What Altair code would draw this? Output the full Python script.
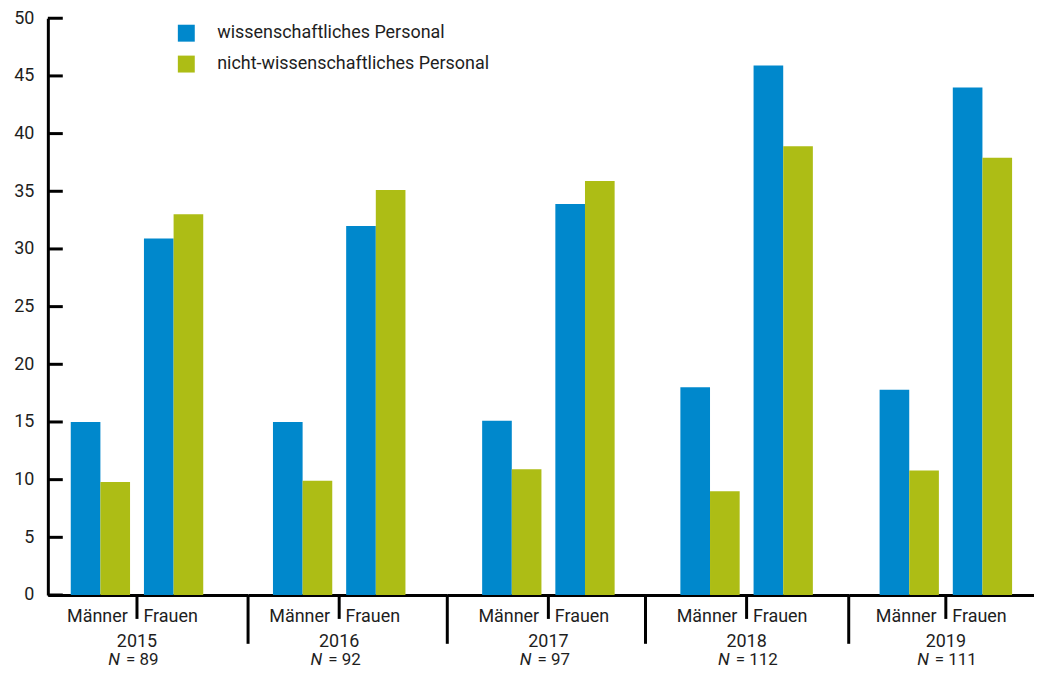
import altair as alt
import pandas as pd

years = ["2015", "2016", "2017", "2018", "2019"]
n_values = [89, 92, 97, 112, 111]
genders = ["Männer", "Frauen"]
series = ["wissenschaftliches Personal", "nicht-wissenschaftliches Personal"]
wiss_maenner = [15.0, 15.0, 15.1, 18.0, 17.8]
nicht_maenner = [9.8, 9.9, 10.9, 9.0, 10.8]
wiss_frauen = [30.9, 32.0, 33.9, 45.9, 44.0]
nicht_frauen = [33.0, 35.1, 35.9, 38.9, 37.9]
y_ticks = [0, 5, 10, 15, 20, 25, 30, 35, 40, 45, 50]
colors = ["#0088cc", "#adbd15"]

# layout of the year panels (pixels)
panel_widths = [201, 200, 199, 204, 186]
bar_starts = [23, 25, 35, 35, 31]
bar_span = 133
pad_inner = 0.19

rows = []
for i, yr in enumerate(years):
    for g, s, v in [
        (genders[0], series[0], wiss_maenner[i]),
        (genders[0], series[1], nicht_maenner[i]),
        (genders[1], series[0], wiss_frauen[i]),
        (genders[1], series[1], nicht_frauen[i]),
    ]:
        rows.append(dict(year=yr, gender=g, series=s, value=v, n=n_values[i]))
df = pd.DataFrame(rows)
ticks_df = pd.DataFrame({"t": y_ticks})

H = 579
FONT = "Roboto"
TXT = "#1e1e1e"

y_scale = alt.Scale(domain=[0, 50], nice=False, zero=True)
y_axis = alt.Axis(title=None, values=y_ticks, ticks=False, domainWidth=3,
                  domainColor="black", grid=False, labelFont=FONT, labelFontSize=18,
                  labelPadding=14, labelColor=TXT)
legend = alt.Legend(title=None, orient="none", legendX=130, legendY=6,
                    symbolType="square", symbolSize=289, symbolStrokeWidth=0,
                    labelFont=FONT, labelFontSize=18, labelColor=TXT, labelLimit=0,
                    labelOffset=22, rowPadding=13, padding=0)
one_per_year = f"datum.gender == '{genders[1]}' && datum.series == '{series[0]}'"


def panel(i):
    yr = years[i]
    w = panel_widths[i]
    step = bar_span / (2 - pad_inner)
    po = (w - bar_span) / (2 * step)
    al = bar_starts[i] / (w - bar_span)
    xs = alt.Scale(paddingInner=pad_inner, paddingOuter=po, align=al)
    x_axis = alt.Axis(title=None, ticks=False, domain=True, domainColor="black",
                      domainWidth=3, labelFont=FONT, labelFontSize=18, labelColor=TXT,
                      labelPadding=13, labelAngle=0, labelOffset=-3)
    base = alt.Chart(df).transform_filter(f"datum.year == '{yr}'")

    bars = base.mark_bar().encode(
        x=alt.X("gender:N", sort=genders, scale=xs, axis=x_axis),
        xOffset=alt.XOffset("series:N", sort=series),
        y=alt.Y("value:Q", scale=y_scale, axis=y_axis if i == 0 else None),
        color=alt.Color("series:N", sort=series,
                        scale=alt.Scale(domain=series, range=colors), legend=legend),
    )
    layers = [bars]
    if i == 0:
        layers.append(
            alt.Chart(ticks_df).mark_rule(color="black", strokeWidth=3).encode(
                x=alt.value(0), x2=alt.value(15),
                y=alt.Y("t:Q", scale=y_scale, axis=y_axis))
        )
    one = base.transform_filter(one_per_year)
    layers.append(
        one.mark_rule(color="black", strokeWidth=3, xOffset=-7).encode(
            x=alt.X("gender:N", sort=genders, bandPosition=0, scale=xs, axis=x_axis),
            y=alt.value(H), y2=alt.value(H + 24))
    )
    if i > 0:
        layers.append(
            one.mark_rule(color="black", strokeWidth=3).encode(
                x=alt.value(0), y=alt.value(H), y2=alt.value(H + 49))
        )
    layers.append(
        one.mark_text(font=FONT, fontSize=18, color=TXT, baseline="middle",
                      xOffset=-7).encode(
            x=alt.X("gender:N", sort=genders, bandPosition=0, scale=xs, axis=x_axis),
            y=alt.value(H + 47), text="year:N")
    )
    layers.append(
        one.mark_text(text="N", font=FONT, fontSize=17, fontStyle="italic", color=TXT,
                      baseline="middle", align="right", xOffset=-24).encode(
            x=alt.X("gender:N", sort=genders, bandPosition=0, scale=xs, axis=x_axis),
            y=alt.value(H + 65))
    )
    layers.append(
        one.transform_calculate(lab="'= ' + datum.n").mark_text(
            font=FONT, fontSize=17, color=TXT, baseline="middle", align="left",
            xOffset=-18).encode(
            x=alt.X("gender:N", sort=genders, bandPosition=0, scale=xs, axis=x_axis),
            y=alt.value(H + 65), text="lab:N")
    )
    return alt.layer(*layers).properties(width=w, height=H)


chart = alt.hconcat(*[panel(i) for i in range(len(years))], spacing=0,
                    bounds="flush").properties(
    padding={"left": 5, "top": 0, "right": 0, "bottom": 0}
).configure_view(stroke=None)

chart.save("out.html", embed_options={"renderer": "svg", "actions": False})
